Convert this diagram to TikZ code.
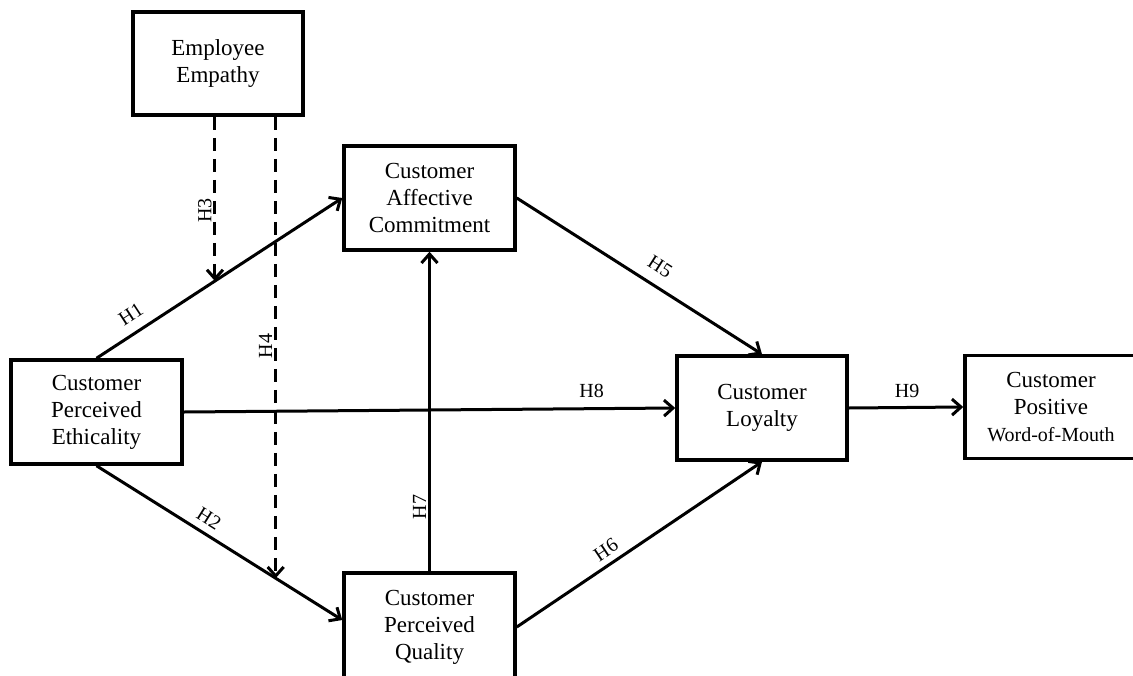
\documentclass[tikz,border=0pt]{standalone}
\usepackage{fontspec}
\setmainfont{Liberation Serif}
\usetikzlibrary{arrows.meta}
\begin{document}
\begin{tikzpicture}[x=1pt,y=-1pt,
  box/.style={draw, line width=3.5pt, align=center, inner sep=0pt,
    font=\fontsize{23}{27}\selectfont},
  link/.style={line width=3pt, -{Straight Barb[length=9pt,width=16pt]}},
  dashlink/.style={link, dash pattern=on 13pt off 8pt},
  lab/.style={font=\fontsize{20}{22}\selectfont, inner sep=2pt},
  vlab/.style={lab, rotate=90, anchor=south}
]
\useasboundingbox (0,0) rectangle (1133,675);

\node[box, minimum width=170pt, minimum height=103pt] (ee) at (218,63.5) {Employee\\Empathy};
\node[box, minimum width=171pt, minimum height=104pt] (cac) at (429.5,198) {Customer\\Affective\\Commitment};
\node[box, minimum width=171pt, minimum height=104pt] (cpe) at (96.5,412) {Customer\\Perceived\\Ethicality};
\node[box, minimum width=170pt, minimum height=104pt] (loy) at (762,408) {Customer\\Loyalty};
\node[box, minimum width=172pt, minimum height=103pt] (wom) at (1051,407) {Customer\\Positive\\{\fontsize{20}{27}\selectfont Word-of-Mouth}};
\node[box, minimum width=171pt, minimum height=108pt] (cpq) at (429.5,627) {Customer\\Perceived\\Quality};

% main paths
\draw[link] (cpe.north) -- (cac.west)
  node[lab, pos=0.18, sloped, above=8pt] {H1}
  coordinate[pos=0.482] (h3end);
\draw[link] (cpe.south) -- ([yshift=7pt]cpq.west)
  node[lab, pos=0.425, sloped, above=5pt] {H2}
  coordinate[pos=0.729] (h4end);
\draw[link] (cac.east) -- (loy.north)
  node[lab, pos=0.543, sloped, above=9pt] {H5};
\draw[link] (cpq.east) -- (loy.south)
  node[lab, pos=0.396, sloped, above=4pt] {H6};
\draw[link] (cpq.north) -- (cac.south)
  node[vlab, pos=0.217, xshift=-5pt] {H7};
\draw[link] (cpe.east) -- (loy.west)
  node[lab, pos=0.83, above=7pt] {H8};
\draw[link] (loy.east) -- (wom.west)
  node[lab, pos=0.51, above=6pt] {H9};

% moderation
\draw[dashlink] (h3end |- ee.south) -- (h3end)
  node[vlab, pos=0.51, xshift=-10pt] {H3};
\draw[dashlink] (h4end |- ee.south) -- (h4end)
  node[vlab, pos=0.484, xshift=-6pt] {H4};
\end{tikzpicture}
\end{document}
